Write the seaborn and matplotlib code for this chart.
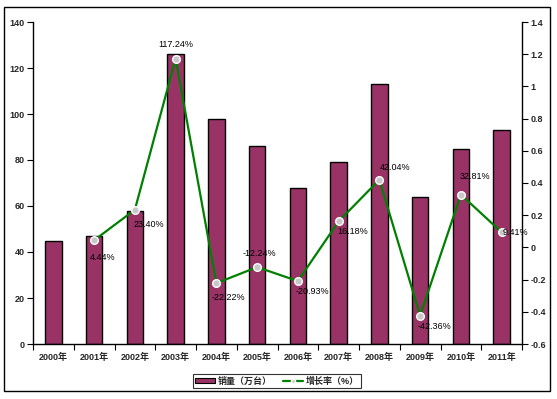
import numpy as np
import pandas as pd
import matplotlib
matplotlib.use("Agg")
import matplotlib.pyplot as plt
import seaborn as sns
from matplotlib.patches import Rectangle
from matplotlib.lines import Line2D
from matplotlib.patches import Patch

years = ["2000年", "2001年", "2002年", "2003年", "2004年", "2005年",
         "2006年", "2007年", "2008年", "2009年", "2010年", "2011年"]
sales = [45, 47, 58, 126, 98, 86, 68, 79, 113, 64, 85, 93]
growth = [np.nan, 0.0444, 0.2340, 1.1724, -0.2222, -0.1224, -0.2093,
          0.1618, 0.4204, -0.4236, 0.3281, 0.0941]
growth_labels = ["", "4.44%", "23.40%", "117.24%", "-22.22%", "-12.24%",
                 "-20.93%", "16.18%", "42.04%", "-42.36%", "32.81%", "9.41%"]
left_ticks = [0, 20, 40, 60, 80, 100, 120, 140]
right_ticks = [-0.6, -0.4, -0.2, 0, 0.2, 0.4, 0.6, 0.8, 1.0, 1.2, 1.4]
legend_labels = ["销量（万台）", "增长率（%）"]

# label offsets in pixels (style)
offsets = [(0, 0), (9, -17), (14, -15), (0, 14), (12, -14), (2, 14),
           (15, -10), (14, -10), (16, 12), (14, -11), (14, 18), (14, 0)]

sns.set_theme(style="white")
plt.rcParams['font.family'] = ['Liberation Sans', 'Noto Sans CJK SC', 'DejaVu Sans']

df = pd.DataFrame({"year": years, "sales": sales, "growth": growth})

fig = plt.figure(figsize=(5.57, 3.99), dpi=100)
ax = fig.add_axes([33/557, 1-344/399, (522-33)/557, (344-22)/399])

bar_color = "#993366"
sns.barplot(data=df, x="year", y="sales", order=years, color=bar_color,
            width=0.4, edgecolor="black", linewidth=1.0, saturation=1, ax=ax)
ax.set_ylim(0, 140)
ax.set_yticks(left_ticks)
ax.set_xlim(-0.5, len(years) - 0.5)
ax.set_xlabel("")
ax.set_ylabel("")

ax2 = ax.twinx()
gdf = df.dropna(subset=["growth"])
sns.pointplot(data=gdf, x="year", y="growth", order=years, color="#008000",
              markers="o", linestyles="-", ax=ax2)
for ln in ax2.lines:
    ln.set_linewidth(1.6)
    ln.set_markersize(5.5)
    ln.set_markerfacecolor("#c8c8c8")
    ln.set_markeredgecolor("white")
    ln.set_markeredgewidth(1.0)
ax2.set_ylim(-0.6, 1.4)
ax2.set_yticks(right_ticks)
ax2.set_yticklabels([f"{v:g}" for v in right_ticks])
ax2.set_xlim(-0.5, len(years) - 0.5)
ax2.set_ylabel("")
ax2.set_xlabel("")

for i, (g, lab) in enumerate(zip(growth, growth_labels)):
    if np.isnan(g):
        continue
    dx, dy = offsets[i]
    ax2.annotate(lab, (i, g), xytext=(dx, dy), textcoords="offset pixels",
                 ha="center", va="center", fontsize=6.5, color="black")

# x ticks: labels at categories, tick marks at boundaries
ax.set_xticks(range(len(years)))
ax.set_xticklabels(years, fontsize=6.5, fontweight="bold")
ax.tick_params(axis="x", which="major", length=0, pad=6)
ax.set_xticks(np.arange(-0.5, len(years), 1), minor=True)
ax.tick_params(axis="x", which="minor", length=4, width=0.8, color="black",
               direction="out", bottom=True)
ax.tick_params(axis="y", length=4, width=0.8, color="black", direction="out",
               left=True, labelsize=6.5, pad=2)
for t in ax.get_yticklabels():
    t.set_fontweight("bold")
ax2.tick_params(axis="y", length=4, width=0.8, color="black", direction="out",
                right=True, labelsize=6.5, pad=2)
for t in ax2.get_yticklabels():
    t.set_fontweight("bold")
ax2.tick_params(axis="x", length=0)

for a in (ax, ax2):
    a.spines["top"].set_visible(False)
    for s in ("left", "right", "bottom"):
        a.spines[s].set_color("black")
        a.spines[s].set_linewidth(1.0)
ax.spines["right"].set_visible(False)
ax2.spines["left"].set_visible(False)
ax2.spines["bottom"].set_visible(False)

handles = [Patch(facecolor=bar_color, edgecolor="black", linewidth=0.8),
           Line2D([], [], color="#008000", lw=1.6, marker="o", markersize=3,
                  markerfacecolor="#c8c8c8", markeredgecolor="white")]
leg = fig.legend(handles, legend_labels, loc="center", bbox_to_anchor=(277/557, 1-381/399),
                 ncol=2, frameon=True, fancybox=False, fontsize=6.5,
                 prop={"weight": "bold", "size": 6.5},
                 handlelength=2.2, handleheight=0.6, borderpad=0.3,
                 columnspacing=1.2, handletextpad=0.3, edgecolor="black")
leg.get_frame().set_linewidth(0.8)

fig.patches.append(Rectangle((4/557, 1-391/399), (550-4)/557, (391-7)/399,
                             transform=fig.transFigure, fill=False,
                             edgecolor="black", linewidth=1.0))

fig.savefig("out.png", dpi=100)
